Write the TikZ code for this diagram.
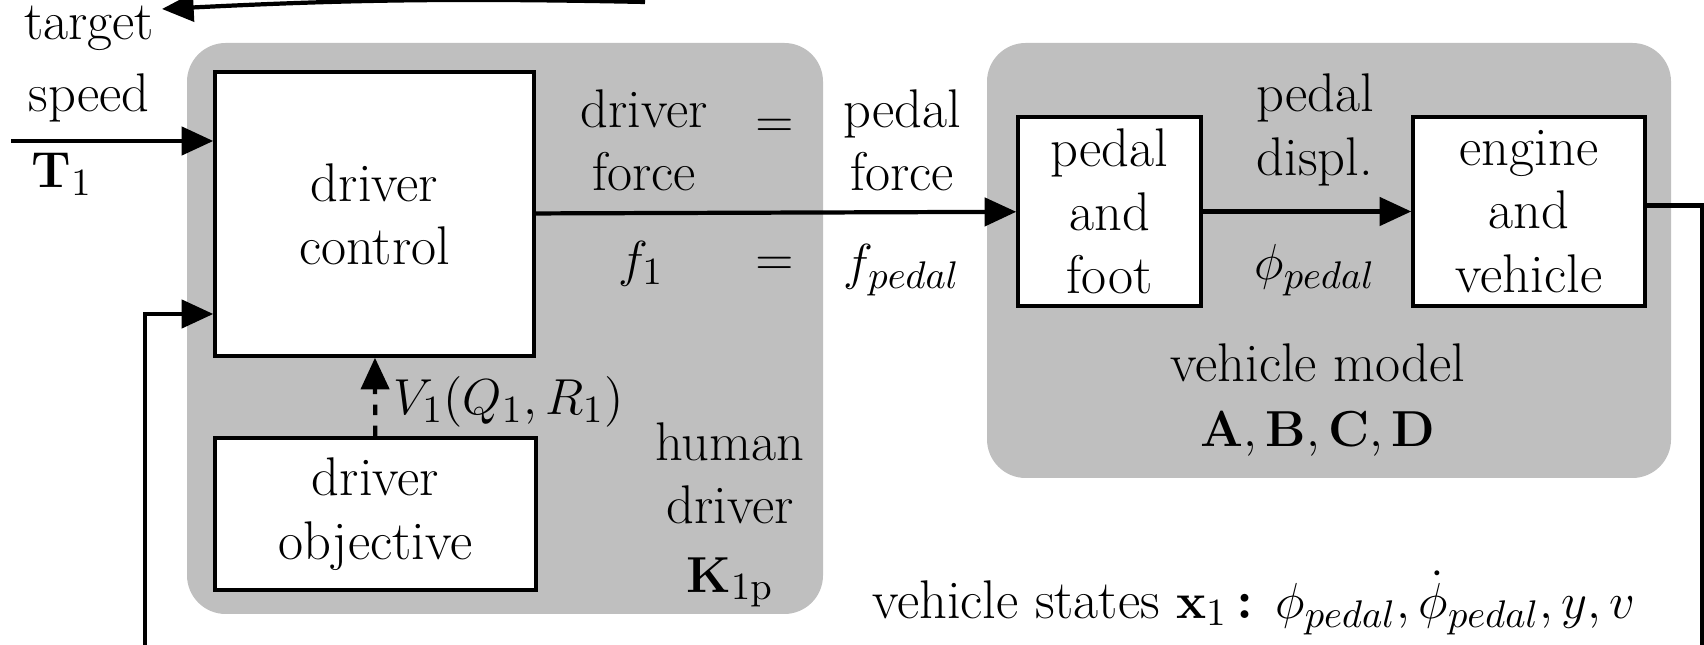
\documentclass[tikz,border=0pt]{standalone}
\usetikzlibrary{arrows.meta,positioning}
\definecolor{panelgray}{RGB}{191,191,191}
\tikzset{
  block/.style={draw, fill=white, line width=1pt, align=center, inner sep=0pt},
  sig/.style={-{Triangle[length=9pt,width=8pt]}, line width=1.2pt},
  panel/.style={fill=panelgray, rounded corners=11pt},
  lbl/.style={align=center, inner sep=0pt},
}
\begin{document}
\begin{tikzpicture}[font=\fontsize{15.5}{18}\selectfont]
  \useasboundingbox (0,0) rectangle (17.04,-6.45);
  % grey panels
  \fill[panel] (1.87,-0.43) rectangle (8.23,-6.14);
  \fill[panel] (9.87,-0.43) rectangle (16.71,-4.78);
  % blocks
  \node[block, minimum width=3.19cm, minimum height=2.84cm] (ctrl) at (3.745,-2.14) {driver\\control};
  \node[block, minimum width=3.21cm, minimum height=1.52cm] (obj) at (3.755,-5.14) {driver\\objective};
  \node[block, minimum width=1.83cm, minimum height=1.89cm] (pedal) at (11.095,-2.115) {pedal\\and\\foot};
  \node[block, minimum width=2.32cm, minimum height=1.89cm] (engine) at (15.29,-2.115) {engine\\and\\vehicle};
  % labels
  \node[lbl] (target) at (0.89,-0.64) {target\\[0.09cm]speed};
  \node[lbl] (T1) at (0.62,-1.74) {$\mathbf{T}_1$};
  \node[lbl] (human) at (7.30,-5.15) {human\\driver\\[0.05cm]$\mathbf{K}_{\mathrm{1p}}$};
  \node[lbl] (dforce) at (6.44,-1.40) {driver\\force};
  \node[lbl] (eq1) at (7.75,-1.28) {$=$};
  \node[lbl] (pforce) at (9.02,-1.40) {pedal\\force};
  \node[lbl] (f1) at (6.41,-2.64) {$f_1$};
  \node[lbl] (eq2) at (7.75,-2.66) {$=$};
  \node[lbl] (fpedal) at (9.02,-2.70) {$f_{pedal}$};
  \node[lbl] (displ) at (13.15,-1.30) {pedal\\displ.};
  \node[lbl] (phi) at (13.15,-2.70) {$\phi_{pedal}$};
  \node[lbl] (vmodel) at (13.18,-4.00) {vehicle model\\[0.02cm]$\mathbf{A}, \mathbf{B}, \mathbf{C}, \mathbf{D}$};
  \node[lbl] (states) at (12.54,-6.03) {vehicle states $\mathbf{x}_1$\,\textbf{:} $\phi_{pedal}, \dot{\phi}_{pedal}, y, v$};
  \node[lbl, anchor=west] (V1) at (3.93,-4.02) {$V_1(Q_1, R_1)$};
  % connectors
  \coordinate (in) at (0.11,-1.41);
  \coordinate (fb) at (1.45,-6.50);
  \coordinate (out) at (17.02,-6.50);
  \coordinate (ret) at (6.45,-0.02);
  \coordinate (retend) at (1.62,-0.09);
  \draw[sig] (in) -- (in -| ctrl.west);
  \draw[sig] (fb) |- ([yshift=-1cm]ctrl.west);
  \draw[sig, dashed] (obj) -- (ctrl);
  \draw[sig] (ctrl) -- (pedal);
  \draw[sig] (pedal) -- (engine);
  \draw[line width=1.2pt] ([yshift=0.06cm]engine.east) -| (out);
  \draw[sig] (ret) to[bend right=2] (retend);
\end{tikzpicture}
\end{document}
